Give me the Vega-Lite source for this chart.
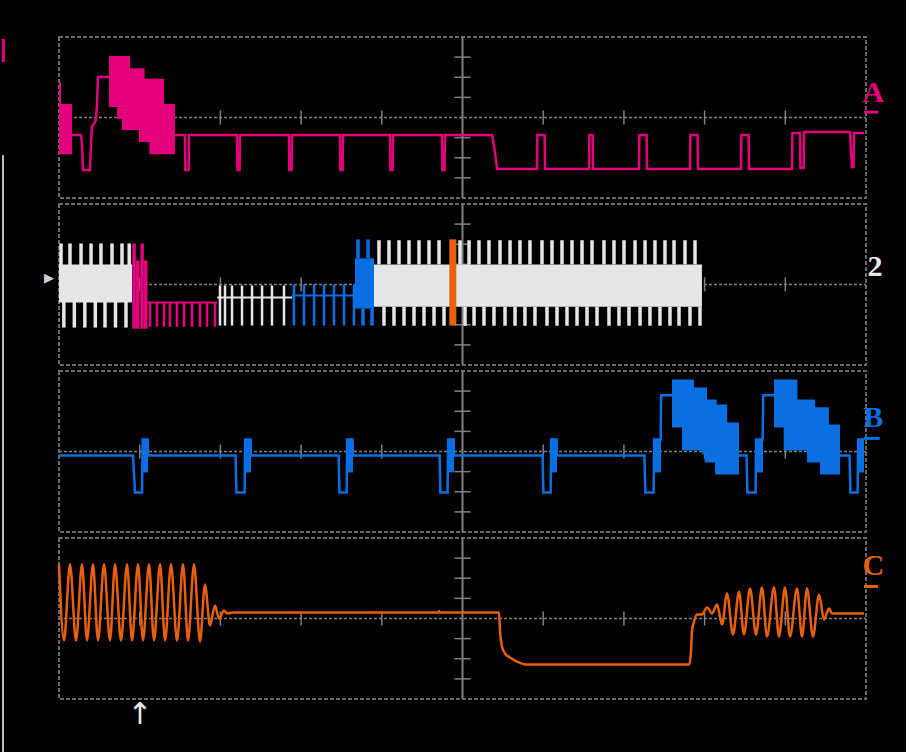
{
"$schema": "https://vega.github.io/schema/vega-lite/v6.json",
"background": "black",
"padding": {"left": 0, "top": 35, "right": 20, "bottom": 0},
"autosize": {"type": "pad"},
"spacing": 6,
"bounds": "flush",
"config": {"view": {"stroke": "#6a6a6a", "strokeWidth": 2, "strokeDash": [4, 2]}},
"datasets": {
"gh": [{"x": 0, "x2": 10, "y": 0}],
"gv": [{"x": 5, "y": -4, "y2": 4}],
"gxt": [{"x": 1, "y": -0.35, "y2": 0.35}, {"x": 2, "y": -0.35, "y2": 0.35}, {"x": 3, "y": -0.35, "y2": 0.35}, {"x": 4, "y": -0.35, "y2": 0.35}, {"x": 6, "y": -0.35, "y2": 0.35}, {"x": 7, "y": -0.35, "y2": 0.35}, {"x": 8, "y": -0.35, "y2": 0.35}, {"x": 9, "y": -0.35, "y2": 0.35}],
"gyt": [{"x": 4.9, "x2": 5.1, "y": -3}, {"x": 4.9, "x2": 5.1, "y": -2}, {"x": 4.9, "x2": 5.1, "y": -1}, {"x": 4.9, "x2": 5.1, "y": 1}, {"x": 4.9, "x2": 5.1, "y": 2}, {"x": 4.9, "x2": 5.1, "y": 3}]
},
"vconcat": [
{
"width": 807, "height": 161,
"encoding": {
"x": {"field": "x", "type": "quantitative", "scale": {"domain": [0, 10], "nice": false, "zero": false}, "axis": null},
"y": {"field": "y", "type": "quantitative", "scale": {"domain": [-4, 4], "nice": false, "zero": false}, "axis": null}
},
"layer": [
{"data": {"name": "gh"}, "mark": {"type": "rule", "color": "#808080", "strokeWidth": 1.5, "strokeDash": [3, 2]}, "encoding": {"x2": {"field": "x2"}}},
{"data": {"name": "gv"}, "mark": {"type": "rule", "color": "#808080", "strokeWidth": 2}, "encoding": {"y2": {"field": "y2"}}},
{"data": {"name": "gxt"}, "mark": {"type": "rule", "color": "#808080", "strokeWidth": 1.5}, "encoding": {"y2": {"field": "y2"}}},
{"data": {"name": "gyt"}, "mark": {"type": "rule", "color": "#808080", "strokeWidth": 1.5}, "encoding": {"x2": {"field": "x2"}}},
{"data": {"values": [{"x": -0.694, "y": -1.87, "y2": -4.3}]}, "mark": {"type": "rule", "color": "#bdbdbd", "strokeWidth": 2}, "encoding": {"y2": {"field": "y2"}}},
{"data": {"values": [{"x": -0.69, "y": 3.9, "y2": 2.76}]}, "mark": {"type": "rule", "color": "#e4007c", "strokeWidth": 3}, "encoding": {"y2": {"field": "y2"}}},
{"data": {"values": [
{"seg": "a", "x": 0, "y": 1.77, "y2": -1.82}, {"seg": "a", "x": 0.025, "y": 0.67, "y2": -1.82}, {"seg": "a", "x": 0.161, "y": 0.67, "y2": -1.82},
{"seg": "b", "x": 0.62, "y": 3.06, "y2": 0.52}, {"seg": "b", "x": 0.72, "y": 3.06, "y2": -0.07}, {"seg": "b", "x": 0.78, "y": 3.06, "y2": -0.62}, {"seg": "b", "x": 0.88, "y": 2.45, "y2": -0.62}, {"seg": "b", "x": 0.99, "y": 2.45, "y2": -1.22}, {"seg": "b", "x": 1.06, "y": 1.92, "y2": -1.22}, {"seg": "b", "x": 1.12, "y": 1.92, "y2": -1.82}, {"seg": "b", "x": 1.3, "y": 0.67, "y2": -1.82}, {"seg": "b", "x": 1.437, "y": 0.67, "y2": -1.82}
]},
"mark": {"type": "area", "interpolate": "step-after", "color": "#e4007c"},
"encoding": {"y": {"field": "y", "type": "quantitative", "stack": null, "scale": {"domain": [-4, 4], "nice": false, "zero": false}, "axis": null}, "y2": {"field": "y2"}, "detail": {"field": "seg"}}},
{"data": {"values": [
{"seg": "a", "x": 0.161, "y": -0.87}, {"seg": "a", "x": 0.273, "y": -0.87}, {"seg": "a", "x": 0.285, "y": -1.32}, {"seg": "a", "x": 0.297, "y": -2.61}, {"seg": "a", "x": 0.384, "y": -2.61}, {"seg": "a", "x": 0.397, "y": -1.22}, {"seg": "a", "x": 0.409, "y": -0.47}, {"seg": "a", "x": 0.458, "y": -0.12}, {"seg": "a", "x": 0.471, "y": 0.67}, {"seg": "a", "x": 0.483, "y": 2.01}, {"seg": "a", "x": 0.625, "y": 2.01},
{"seg": "b", "x": 1.437, "y": -0.87}, {"seg": "b", "x": 1.561, "y": -0.87}, {"seg": "b", "x": 1.566, "y": -2.61}, {"seg": "b", "x": 1.606, "y": -2.61}, {"seg": "b", "x": 1.611, "y": -0.87},
{"seg": "b", "x": 2.206, "y": -0.87}, {"seg": "b", "x": 2.211, "y": -2.61}, {"seg": "b", "x": 2.238, "y": -2.61}, {"seg": "b", "x": 2.243, "y": -0.87},
{"seg": "b", "x": 2.85, "y": -0.87}, {"seg": "b", "x": 2.855, "y": -2.61}, {"seg": "b", "x": 2.882, "y": -2.61}, {"seg": "b", "x": 2.887, "y": -0.87},
{"seg": "b", "x": 3.482, "y": -0.87}, {"seg": "b", "x": 3.487, "y": -2.61}, {"seg": "b", "x": 3.514, "y": -2.61}, {"seg": "b", "x": 3.519, "y": -0.87},
{"seg": "b", "x": 4.102, "y": -0.87}, {"seg": "b", "x": 4.107, "y": -2.61}, {"seg": "b", "x": 4.134, "y": -2.61}, {"seg": "b", "x": 4.139, "y": -0.87},
{"seg": "b", "x": 4.746, "y": -0.87}, {"seg": "b", "x": 4.751, "y": -2.61}, {"seg": "b", "x": 4.778, "y": -2.61}, {"seg": "b", "x": 4.783, "y": -0.87},
{"seg": "b", "x": 5.366, "y": -0.87}, {"seg": "b", "x": 5.403, "y": -1.72}, {"seg": "b", "x": 5.428, "y": -2.56},
{"seg": "b", "x": 5.923, "y": -2.56}, {"seg": "b", "x": 5.928, "y": -0.87}, {"seg": "b", "x": 6.017, "y": -0.87}, {"seg": "b", "x": 6.022, "y": -2.56},
{"seg": "b", "x": 6.568, "y": -2.56}, {"seg": "b", "x": 6.573, "y": -0.87}, {"seg": "b", "x": 6.612, "y": -0.87}, {"seg": "b", "x": 6.617, "y": -2.56},
{"seg": "b", "x": 7.187, "y": -2.56}, {"seg": "b", "x": 7.192, "y": -0.87}, {"seg": "b", "x": 7.281, "y": -0.87}, {"seg": "b", "x": 7.286, "y": -2.56},
{"seg": "b", "x": 7.819, "y": -2.56}, {"seg": "b", "x": 7.824, "y": -0.87}, {"seg": "b", "x": 7.913, "y": -0.87}, {"seg": "b", "x": 7.918, "y": -2.56},
{"seg": "b", "x": 8.451, "y": -2.56}, {"seg": "b", "x": 8.456, "y": -0.87}, {"seg": "b", "x": 8.545, "y": -0.87}, {"seg": "b", "x": 8.55, "y": -2.56},
{"seg": "b", "x": 9.083, "y": -2.56}, {"seg": "b", "x": 9.088, "y": -0.77}, {"seg": "b", "x": 9.182, "y": -0.77}, {"seg": "b", "x": 9.187, "y": -2.51}, {"seg": "b", "x": 9.227, "y": -2.51}, {"seg": "b", "x": 9.232, "y": -0.72},
{"seg": "b", "x": 9.802, "y": -0.72}, {"seg": "b", "x": 9.814, "y": -1.72}, {"seg": "b", "x": 9.827, "y": -2.46}, {"seg": "b", "x": 9.846, "y": -2.46}, {"seg": "b", "x": 9.851, "y": -0.77}, {"seg": "b", "x": 9.975, "y": -0.77}
]},
"mark": {"type": "line", "color": "#e4007c", "strokeWidth": 2.5},
"encoding": {"detail": {"field": "seg"}}},
{"data": {"values": [{"x": 9.975, "x2": 10.15, "y": 0.27}]}, "mark": {"type": "rule", "color": "#e4007c", "strokeWidth": 3}, "encoding": {"x2": {"field": "x2"}}},
{"data": {"values": [{"x": 10.09, "y": 1.22, "t": "A"}]}, "mark": {"type": "text", "font": "Liberation Sans Narrow", "fontWeight": "bold", "fontSize": 30, "color": "#e4007c", "baseline": "middle", "align": "center"}, "encoding": {"text": {"field": "t"}}}
]
},
{
"width": 807, "height": 161,
"encoding": {
"x": {"field": "x", "type": "quantitative", "scale": {"domain": [0, 10], "nice": false, "zero": false}, "axis": null},
"y": {"field": "y", "type": "quantitative", "scale": {"domain": [-4, 4], "nice": false, "zero": false}, "axis": null}
},
"layer": [
{"data": {"name": "gh"}, "mark": {"type": "rule", "color": "#808080", "strokeWidth": 1.5, "strokeDash": [3, 2]}, "encoding": {"x2": {"field": "x2"}}},
{"data": {"name": "gv"}, "mark": {"type": "rule", "color": "#808080", "strokeWidth": 2}, "encoding": {"y2": {"field": "y2"}}},
{"data": {"name": "gxt"}, "mark": {"type": "rule", "color": "#808080", "strokeWidth": 1.5}, "encoding": {"y2": {"field": "y2"}}},
{"data": {"name": "gyt"}, "mark": {"type": "rule", "color": "#808080", "strokeWidth": 1.5}, "encoding": {"x2": {"field": "x2"}}},
{"data": {"values": [{"x": -0.694, "y": 4.3, "y2": -4.3}]}, "mark": {"type": "rule", "color": "#bdbdbd", "strokeWidth": 2}, "encoding": {"y2": {"field": "y2"}}},
{"data": {"values": [
{"seg": "w1", "c": "white", "x": 0, "y": 1.0, "y2": -0.9}, {"seg": "w1", "c": "white", "x": 0.905, "y": 1.0, "y2": -0.9},
{"seg": "b1", "c": "blue", "x": 3.668, "y": 1.3, "y2": -1.2}, {"seg": "b1", "c": "blue", "x": 3.903, "y": 1.3, "y2": -1.2},
{"seg": "w2", "c": "white", "x": 3.903, "y": 1.0, "y2": -1.1}, {"seg": "w2", "c": "white", "x": 7.967, "y": 1.0, "y2": -1.1}
]},
"mark": {"type": "area", "interpolate": "step-after"},
"encoding": {"y": {"field": "y", "type": "quantitative", "stack": null, "scale": {"domain": [-4, 4], "nice": false, "zero": false}, "axis": null}, "y2": {"field": "y2"}, "detail": {"field": "seg"},
"color": {"field": "c", "type": "nominal", "scale": {"domain": ["pink", "blue", "white", "orange"], "range": ["#e4007c", "#0a6fe2", "#e6e6e6", "#e8600c"]}, "legend": null}}},
{"data": {"values": [
{"c": "pink", "x": 1.09, "x2": 1.96, "y": -0.9}, {"c": "white", "x": 1.96, "x2": 2.89, "y": -0.65}, {"c": "blue", "x": 2.89, "x2": 3.67, "y": -0.55}
]},
"mark": {"type": "rule", "strokeWidth": 2},
"encoding": {"x2": {"field": "x2"}, "color": {"field": "c", "type": "nominal", "scale": {"domain": ["pink", "blue", "white", "orange"], "range": ["#e4007c", "#0a6fe2", "#e6e6e6", "#e8600c"]}, "legend": null}}},
{"data": {"values": [
{"c": "white", "x": 0.025, "y": 0.9, "y2": 2.04}, {"c": "white", "x": 0.136, "y": 0.9, "y2": 2.04}, {"c": "white", "x": 0.273, "y": 0.9, "y2": 2.04}, {"c": "white", "x": 0.397, "y": 0.9, "y2": 2.04}, {"c": "white", "x": 0.52, "y": 0.9, "y2": 2.04}, {"c": "white", "x": 0.657, "y": 0.9, "y2": 2.04}, {"c": "white", "x": 0.781, "y": 0.9, "y2": 2.04}, {"c": "white", "x": 0.87, "y": 0.9, "y2": 2.04},
{"c": "white", "x": 0.06, "y": -0.85, "y2": -2.14}, {"c": "white", "x": 0.19, "y": -0.85, "y2": -2.14}, {"c": "white", "x": 0.32, "y": -0.85, "y2": -2.14}, {"c": "white", "x": 0.45, "y": -0.85, "y2": -2.14}, {"c": "white", "x": 0.57, "y": -0.85, "y2": -2.14}, {"c": "white", "x": 0.7, "y": -0.85, "y2": -2.14}, {"c": "white", "x": 0.83, "y": -0.85, "y2": -2.14},
{"c": "pink", "x": 0.93, "y": 2.04, "y2": -2.2}, {"c": "pink", "x": 0.975, "y": 1.2, "y2": -2.2}, {"c": "pink", "x": 1.03, "y": 2.04, "y2": -2.2}, {"c": "pink", "x": 1.075, "y": 1.2, "y2": -2.2},
{"c": "blue", "x": 3.705, "y": 1.3, "y2": 2.24}, {"c": "blue", "x": 3.829, "y": 1.3, "y2": 2.24}, {"c": "blue", "x": 3.767, "y": -1.2, "y2": -2.04}, {"c": "blue", "x": 3.879, "y": -1.2, "y2": -2.04},
{"c": "white", "x": 3.965, "y": 1.0, "y2": 2.2}, {"c": "white", "x": 4.089, "y": 1.0, "y2": 2.2}, {"c": "white", "x": 4.213, "y": 1.0, "y2": 2.2}, {"c": "white", "x": 4.337, "y": 1.0, "y2": 2.2}, {"c": "white", "x": 4.461, "y": 1.0, "y2": 2.2}, {"c": "white", "x": 4.585, "y": 1.0, "y2": 2.2}, {"c": "white", "x": 4.709, "y": 1.0, "y2": 2.2}, {"c": "white", "x": 4.969, "y": 1.0, "y2": 2.2}, {"c": "white", "x": 5.081, "y": 1.0, "y2": 2.2}, {"c": "white", "x": 5.204, "y": 1.0, "y2": 2.2}, {"c": "white", "x": 5.328, "y": 1.0, "y2": 2.2}, {"c": "white", "x": 5.465, "y": 1.0, "y2": 2.2}, {"c": "white", "x": 5.589, "y": 1.0, "y2": 2.2}, {"c": "white", "x": 5.712, "y": 1.0, "y2": 2.2}, {"c": "white", "x": 5.836, "y": 1.0, "y2": 2.2}, {"c": "white", "x": 5.985, "y": 1.0, "y2": 2.2}, {"c": "white", "x": 6.109, "y": 1.0, "y2": 2.2}, {"c": "white", "x": 6.233, "y": 1.0, "y2": 2.2}, {"c": "white", "x": 6.357, "y": 1.0, "y2": 2.2}, {"c": "white", "x": 6.481, "y": 1.0, "y2": 2.2}, {"c": "white", "x": 6.605, "y": 1.0, "y2": 2.2}, {"c": "white", "x": 6.753, "y": 1.0, "y2": 2.2}, {"c": "white", "x": 6.877, "y": 1.0, "y2": 2.2}, {"c": "white", "x": 7.001, "y": 1.0, "y2": 2.2}, {"c": "white", "x": 7.138, "y": 1.0, "y2": 2.2}, {"c": "white", "x": 7.262, "y": 1.0, "y2": 2.2}, {"c": "white", "x": 7.385, "y": 1.0, "y2": 2.2}, {"c": "white", "x": 7.509, "y": 1.0, "y2": 2.2}, {"c": "white", "x": 7.621, "y": 1.0, "y2": 2.2}, {"c": "white", "x": 7.757, "y": 1.0, "y2": 2.2}, {"c": "white", "x": 7.881, "y": 1.0, "y2": 2.2},
{"c": "white", "x": 4.027, "y": -1.1, "y2": -2.05}, {"c": "white", "x": 4.151, "y": -1.1, "y2": -2.05}, {"c": "white", "x": 4.275, "y": -1.1, "y2": -2.05}, {"c": "white", "x": 4.399, "y": -1.1, "y2": -2.05}, {"c": "white", "x": 4.523, "y": -1.1, "y2": -2.05}, {"c": "white", "x": 4.647, "y": -1.1, "y2": -2.05}, {"c": "white", "x": 4.771, "y": -1.1, "y2": -2.05}, {"c": "white", "x": 5.031, "y": -1.1, "y2": -2.05}, {"c": "white", "x": 5.143, "y": -1.1, "y2": -2.05}, {"c": "white", "x": 5.266, "y": -1.1, "y2": -2.05}, {"c": "white", "x": 5.39, "y": -1.1, "y2": -2.05}, {"c": "white", "x": 5.527, "y": -1.1, "y2": -2.05}, {"c": "white", "x": 5.651, "y": -1.1, "y2": -2.05}, {"c": "white", "x": 5.774, "y": -1.1, "y2": -2.05}, {"c": "white", "x": 5.898, "y": -1.1, "y2": -2.05}, {"c": "white", "x": 6.047, "y": -1.1, "y2": -2.05}, {"c": "white", "x": 6.171, "y": -1.1, "y2": -2.05}, {"c": "white", "x": 6.295, "y": -1.1, "y2": -2.05}, {"c": "white", "x": 6.419, "y": -1.1, "y2": -2.05}, {"c": "white", "x": 6.543, "y": -1.1, "y2": -2.05}, {"c": "white", "x": 6.667, "y": -1.1, "y2": -2.05}, {"c": "white", "x": 6.815, "y": -1.1, "y2": -2.05}, {"c": "white", "x": 6.939, "y": -1.1, "y2": -2.05}, {"c": "white", "x": 7.063, "y": -1.1, "y2": -2.05}, {"c": "white", "x": 7.2, "y": -1.1, "y2": -2.05}, {"c": "white", "x": 7.323, "y": -1.1, "y2": -2.05}, {"c": "white", "x": 7.447, "y": -1.1, "y2": -2.05}, {"c": "white", "x": 7.571, "y": -1.1, "y2": -2.05}, {"c": "white", "x": 7.683, "y": -1.1, "y2": -2.05}, {"c": "white", "x": 7.819, "y": -1.1, "y2": -2.05}, {"c": "white", "x": 7.943, "y": -1.1, "y2": -2.05}
]},
"mark": {"type": "rule", "strokeWidth": 3.5},
"encoding": {"y2": {"field": "y2"}, "color": {"field": "c", "type": "nominal", "scale": {"domain": ["pink", "blue", "white", "orange"], "range": ["#e4007c", "#0a6fe2", "#e6e6e6", "#e8600c"]}, "legend": null}}},
{"data": {"values": [
{"c": "pink", "x": 1.128, "y": -0.9, "y2": -2.1}, {"c": "pink", "x": 1.214, "y": -0.9, "y2": -2.1}, {"c": "pink", "x": 1.301, "y": -0.9, "y2": -2.1}, {"c": "pink", "x": 1.375, "y": -0.9, "y2": -2.1}, {"c": "pink", "x": 1.462, "y": -0.9, "y2": -2.1}, {"c": "pink", "x": 1.549, "y": -0.9, "y2": -2.1}, {"c": "pink", "x": 1.648, "y": -0.9, "y2": -2.1}, {"c": "pink", "x": 1.747, "y": -0.9, "y2": -2.1}, {"c": "pink", "x": 1.834, "y": -0.9, "y2": -2.1}, {"c": "pink", "x": 1.933, "y": -0.9, "y2": -2.1},
{"c": "white", "x": 1.995, "y": -0.05, "y2": -2.04}, {"c": "white", "x": 2.057, "y": -0.05, "y2": -2.04}, {"c": "white", "x": 2.144, "y": -0.05, "y2": -2.04}, {"c": "white", "x": 2.268, "y": -0.05, "y2": -2.04}, {"c": "white", "x": 2.392, "y": -0.05, "y2": -2.04}, {"c": "white", "x": 2.516, "y": -0.05, "y2": -2.04}, {"c": "white", "x": 2.639, "y": -0.05, "y2": -2.04}, {"c": "white", "x": 2.788, "y": -0.05, "y2": -2.04},
{"c": "blue", "x": 2.912, "y": 0, "y2": -2.04}, {"c": "blue", "x": 3.036, "y": 0, "y2": -2.04}, {"c": "blue", "x": 3.16, "y": 0, "y2": -2.04}, {"c": "blue", "x": 3.284, "y": 0, "y2": -2.04}, {"c": "blue", "x": 3.408, "y": 0, "y2": -2.04}, {"c": "blue", "x": 3.532, "y": 0, "y2": -2.04}, {"c": "blue", "x": 3.655, "y": 0, "y2": -2.04}
]},
"mark": {"type": "rule", "strokeWidth": 2.5},
"encoding": {"y2": {"field": "y2"}, "color": {"field": "c", "type": "nominal", "scale": {"domain": ["pink", "blue", "white", "orange"], "range": ["#e4007c", "#0a6fe2", "#e6e6e6", "#e8600c"]}, "legend": null}}},
{"data": {"values": [{"x": 4.88, "y": 2.24, "y2": -2.04}]}, "mark": {"type": "rule", "color": "#e8600c", "strokeWidth": 7}, "encoding": {"y2": {"field": "y2"}}},
{"data": {"values": [{"x": 10.11, "y": 0.85, "t": "2"}]}, "mark": {"type": "text", "font": "Liberation Sans Narrow", "fontWeight": "bold", "fontSize": 30, "color": "#e6e6e6", "baseline": "middle", "align": "center"}, "encoding": {"text": {"field": "t"}}},
{"data": {"values": [{"x": -0.124, "y": 0.3, "t": "▶"}]}, "mark": {"type": "text", "font": "DejaVu Sans", "fontSize": 13, "color": "#d0d0d0", "baseline": "middle", "align": "center"}, "encoding": {"text": {"field": "t"}}}
]
},
{
"width": 807, "height": 161,
"encoding": {
"x": {"field": "x", "type": "quantitative", "scale": {"domain": [0, 10], "nice": false, "zero": false}, "axis": null},
"y": {"field": "y", "type": "quantitative", "scale": {"domain": [-4, 4], "nice": false, "zero": false}, "axis": null}
},
"layer": [
{"data": {"name": "gh"}, "mark": {"type": "rule", "color": "#808080", "strokeWidth": 1.5, "strokeDash": [3, 2]}, "encoding": {"x2": {"field": "x2"}}},
{"data": {"name": "gv"}, "mark": {"type": "rule", "color": "#808080", "strokeWidth": 2}, "encoding": {"y2": {"field": "y2"}}},
{"data": {"name": "gxt"}, "mark": {"type": "rule", "color": "#808080", "strokeWidth": 1.5}, "encoding": {"y2": {"field": "y2"}}},
{"data": {"name": "gyt"}, "mark": {"type": "rule", "color": "#808080", "strokeWidth": 1.5}, "encoding": {"x2": {"field": "x2"}}},
{"data": {"values": [{"x": -0.694, "y": 4.3, "y2": -4.3}]}, "mark": {"type": "rule", "color": "#bdbdbd", "strokeWidth": 2}, "encoding": {"y2": {"field": "y2"}}},
{"data": {"values": [
{"seg": "s1", "x": 1.036, "y": 0.6, "y2": -1.04}, {"seg": "s1", "x": 1.103, "y": 0.6, "y2": -1.04},
{"seg": "s2", "x": 2.307, "y": 0.6, "y2": -1.04}, {"seg": "s2", "x": 2.379, "y": 0.6, "y2": -1.04},
{"seg": "s3", "x": 3.571, "y": 0.6, "y2": -1.04}, {"seg": "s3", "x": 3.643, "y": 0.6, "y2": -1.04},
{"seg": "s4", "x": 4.822, "y": 0.6, "y2": -1.04}, {"seg": "s4", "x": 4.895, "y": 0.6, "y2": -1.04},
{"seg": "s5", "x": 6.099, "y": 0.6, "y2": -1.04}, {"seg": "s5", "x": 6.171, "y": 0.6, "y2": -1.04},
{"seg": "s6", "x": 7.375, "y": 0.6, "y2": -1.04}, {"seg": "s6", "x": 7.46, "y": 0.6, "y2": -1.04},
{"seg": "s7", "x": 8.639, "y": 0.6, "y2": -1.04}, {"seg": "s7", "x": 8.724, "y": 0.6, "y2": -1.04},
{"seg": "s8", "x": 9.903, "y": 0.6, "y2": -1.04}, {"seg": "s8", "x": 9.975, "y": 0.6, "y2": -1.04},
{"seg": "k1", "x": 7.596, "y": 3.58, "y2": 1.19}, {"seg": "k1", "x": 7.72, "y": 3.58, "y2": 0.05}, {"seg": "k1", "x": 7.87, "y": 3.18, "y2": 0.05}, {"seg": "k1", "x": 7.97, "y": 3.18, "y2": -0.15}, {"seg": "k1", "x": 8.0, "y": 3.18, "y2": -0.55}, {"seg": "k1", "x": 8.03, "y": 2.59, "y2": -0.55}, {"seg": "k1", "x": 8.13, "y": 2.59, "y2": -1.14}, {"seg": "k1", "x": 8.15, "y": 2.34, "y2": -1.14}, {"seg": "k1", "x": 8.28, "y": 1.44, "y2": -1.14}, {"seg": "k1", "x": 8.426, "y": 1.44, "y2": -1.14},
{"seg": "k2", "x": 8.86, "y": 3.58, "y2": 1.19}, {"seg": "k2", "x": 8.98, "y": 3.58, "y2": 0.05}, {"seg": "k2", "x": 9.15, "y": 2.59, "y2": 0.05}, {"seg": "k2", "x": 9.27, "y": 2.59, "y2": -0.55}, {"seg": "k2", "x": 9.37, "y": 2.2, "y2": -0.55}, {"seg": "k2", "x": 9.43, "y": 2.2, "y2": -1.14}, {"seg": "k2", "x": 9.54, "y": 1.34, "y2": -1.14}, {"seg": "k2", "x": 9.678, "y": 1.34, "y2": -1.14}
]},
"mark": {"type": "area", "interpolate": "step-after", "color": "#0a6fe2"},
"encoding": {"y": {"field": "y", "type": "quantitative", "stack": null, "scale": {"domain": [-4, 4], "nice": false, "zero": false}, "axis": null}, "y2": {"field": "y2"}, "detail": {"field": "seg"}}},
{"data": {"values": [
{"seg": "a", "x": 0, "y": -0.2}, {"seg": "a", "x": 0.917, "y": -0.2}, {"seg": "a", "x": 0.942, "y": -2.04}, {"seg": "a", "x": 1.029, "y": -2.04}, {"seg": "a", "x": 1.036, "y": 0.6}, {"seg": "a", "x": 1.098, "y": 0.6}, {"seg": "a", "x": 1.103, "y": -0.2},
{"seg": "a", "x": 2.188, "y": -0.2}, {"seg": "a", "x": 2.198, "y": -2.04}, {"seg": "a", "x": 2.3, "y": -2.04}, {"seg": "a", "x": 2.307, "y": 0.6}, {"seg": "a", "x": 2.374, "y": 0.6}, {"seg": "a", "x": 2.379, "y": -0.2},
{"seg": "a", "x": 3.465, "y": -0.2}, {"seg": "a", "x": 3.475, "y": -2.04}, {"seg": "a", "x": 3.564, "y": -2.04}, {"seg": "a", "x": 3.571, "y": 0.6}, {"seg": "a", "x": 3.638, "y": 0.6}, {"seg": "a", "x": 3.643, "y": -0.2},
{"seg": "a", "x": 4.716, "y": -0.2}, {"seg": "a", "x": 4.726, "y": -2.04}, {"seg": "a", "x": 4.815, "y": -2.04}, {"seg": "a", "x": 4.822, "y": 0.6}, {"seg": "a", "x": 4.89, "y": 0.6}, {"seg": "a", "x": 4.895, "y": -0.2},
{"seg": "a", "x": 5.992, "y": -0.2}, {"seg": "a", "x": 6.002, "y": -2.04}, {"seg": "a", "x": 6.092, "y": -2.04}, {"seg": "a", "x": 6.099, "y": 0.6}, {"seg": "a", "x": 6.166, "y": 0.6}, {"seg": "a", "x": 6.171, "y": -0.2},
{"seg": "a", "x": 7.255, "y": -0.2}, {"seg": "a", "x": 7.265, "y": -2.04}, {"seg": "a", "x": 7.368, "y": -2.04}, {"seg": "a", "x": 7.375, "y": 0.6}, {"seg": "a", "x": 7.455, "y": 0.6}, {"seg": "a", "x": 7.462, "y": 2.79}, {"seg": "a", "x": 7.6, "y": 2.79},
{"seg": "b", "x": 8.426, "y": -0.2}, {"seg": "b", "x": 8.52, "y": -0.2}, {"seg": "b", "x": 8.53, "y": -2.04}, {"seg": "b", "x": 8.632, "y": -2.04}, {"seg": "b", "x": 8.639, "y": 0.6}, {"seg": "b", "x": 8.719, "y": 0.6}, {"seg": "b", "x": 8.726, "y": 2.79}, {"seg": "b", "x": 8.864, "y": 2.79},
{"seg": "c", "x": 9.678, "y": -0.2}, {"seg": "c", "x": 9.797, "y": -0.2}, {"seg": "c", "x": 9.807, "y": -2.04}, {"seg": "c", "x": 9.896, "y": -2.04}, {"seg": "c", "x": 9.903, "y": 0.6}, {"seg": "c", "x": 9.975, "y": 0.6}
]},
"mark": {"type": "line", "color": "#0a6fe2", "strokeWidth": 2.5},
"encoding": {"detail": {"field": "seg"}}},
{"data": {"values": [{"x": 9.975, "x2": 10.17, "y": 0.65}]}, "mark": {"type": "rule", "color": "#0a6fe2", "strokeWidth": 3}, "encoding": {"x2": {"field": "x2"}}},
{"data": {"values": [{"x": 10.09, "y": 1.64, "t": "B"}]}, "mark": {"type": "text", "font": "Liberation Sans Narrow", "fontWeight": "bold", "fontSize": 30, "color": "#0a6fe2", "baseline": "middle", "align": "center"}, "encoding": {"text": {"field": "t"}}}
]
},
{
"width": 807, "height": 161,
"encoding": {
"x": {"field": "x", "type": "quantitative", "scale": {"domain": [0, 10], "nice": false, "zero": false}, "axis": null},
"y": {"field": "y", "type": "quantitative", "scale": {"domain": [-4, 4], "nice": false, "zero": false}, "axis": null}
},
"layer": [
{"data": {"name": "gh"}, "mark": {"type": "rule", "color": "#808080", "strokeWidth": 1.5, "strokeDash": [3, 2]}, "encoding": {"x2": {"field": "x2"}}},
{"data": {"name": "gv"}, "mark": {"type": "rule", "color": "#808080", "strokeWidth": 2}, "encoding": {"y2": {"field": "y2"}}},
{"data": {"name": "gxt"}, "mark": {"type": "rule", "color": "#808080", "strokeWidth": 1.5}, "encoding": {"y2": {"field": "y2"}}},
{"data": {"name": "gyt"}, "mark": {"type": "rule", "color": "#808080", "strokeWidth": 1.5}, "encoding": {"x2": {"field": "x2"}}},
{"data": {"values": [{"x": -0.694, "y": 4.3, "y2": -6.8}]}, "mark": {"type": "rule", "color": "#bdbdbd", "strokeWidth": 2}, "encoding": {"y2": {"field": "y2"}}},
{"data": {"values": [
{"x": 0, "y": 2.69}, {"x": 0.062, "y": -1.09}, {"x": 0.136, "y": 2.69}, {"x": 0.211, "y": -1.09}, {"x": 0.285, "y": 2.69}, {"x": 0.347, "y": -1.09}, {"x": 0.421, "y": 2.69}, {"x": 0.483, "y": -1.09}, {"x": 0.558, "y": 2.69}, {"x": 0.632, "y": -1.09}, {"x": 0.694, "y": 2.69}, {"x": 0.768, "y": -1.09}, {"x": 0.843, "y": 2.69}, {"x": 0.905, "y": -1.09}, {"x": 0.979, "y": 2.69}, {"x": 1.041, "y": -1.09}, {"x": 1.115, "y": 2.69}, {"x": 1.177, "y": -1.09}, {"x": 1.252, "y": 2.69}, {"x": 1.314, "y": -1.09}, {"x": 1.388, "y": 2.69}, {"x": 1.462, "y": -1.09}, {"x": 1.537, "y": 2.69}, {"x": 1.599, "y": -1.09}, {"x": 1.673, "y": 2.69}, {"x": 1.747, "y": -1.14}, {"x": 1.809, "y": 1.69}, {"x": 1.871, "y": -0.35}, {"x": 1.933, "y": 0.65}, {"x": 1.983, "y": 0.0}, {"x": 2.045, "y": 0.4}, {"x": 2.082, "y": 0.25}, {"x": 2.15, "y": 0.3},
{"x": 4.7, "y": 0.3}, {"x": 4.709, "y": 0.36}, {"x": 4.72, "y": 0.3}, {"x": 5.452, "y": 0.3}, {"x": 5.465, "y": -0.65}, {"x": 5.489, "y": -1.39}, {"x": 5.527, "y": -1.74}, {"x": 5.589, "y": -1.94}, {"x": 5.675, "y": -2.14}, {"x": 5.799, "y": -2.29},
{"x": 7.81, "y": -2.29}, {"x": 7.831, "y": -1.64}, {"x": 7.844, "y": -0.65}, {"x": 7.869, "y": -0.15}, {"x": 7.906, "y": 0.2}, {"x": 7.968, "y": 0.2}, {"x": 8.03, "y": 0.55}, {"x": 8.092, "y": 0.25}, {"x": 8.154, "y": 0.7}, {"x": 8.216, "y": -0.3}, {"x": 8.278, "y": 1.24}, {"x": 8.352, "y": -0.8}, {"x": 8.426, "y": 1.34}, {"x": 8.488, "y": -0.8}, {"x": 8.563, "y": 1.49}, {"x": 8.637, "y": -0.8}, {"x": 8.711, "y": 1.54}, {"x": 8.773, "y": -0.9}, {"x": 8.86, "y": 1.54}, {"x": 8.922, "y": -0.9}, {"x": 8.996, "y": 1.54}, {"x": 9.058, "y": -0.9}, {"x": 9.145, "y": 1.49}, {"x": 9.207, "y": -0.9}, {"x": 9.269, "y": 1.49}, {"x": 9.343, "y": -0.9}, {"x": 9.418, "y": 1.19}, {"x": 9.48, "y": -0.05}, {"x": 9.541, "y": 0.5}, {"x": 9.579, "y": 0.25}, {"x": 9.975, "y": 0.25}
]},
"mark": {"type": "line", "color": "#e8600c", "strokeWidth": 2.5, "interpolate": "monotone"}},
{"data": {"values": [{"x": 9.975, "x2": 10.15, "y": 1.59}]}, "mark": {"type": "rule", "color": "#e8600c", "strokeWidth": 3}, "encoding": {"x2": {"field": "x2"}}},
{"data": {"values": [{"x": 10.09, "y": 2.59, "t": "C"}]}, "mark": {"type": "text", "font": "Liberation Sans Narrow", "fontWeight": "bold", "fontSize": 30, "color": "#e8600c", "baseline": "middle", "align": "center"}, "encoding": {"text": {"field": "t"}}},
{"data": {"values": [{"x": 1.0, "y": -4.8, "t": "↑"}]}, "mark": {"type": "text", "font": "DejaVu Sans", "fontSize": 30, "color": "#e6e6e6", "baseline": "middle", "align": "center"}, "encoding": {"text": {"field": "t"}}}
]
}
]
}
